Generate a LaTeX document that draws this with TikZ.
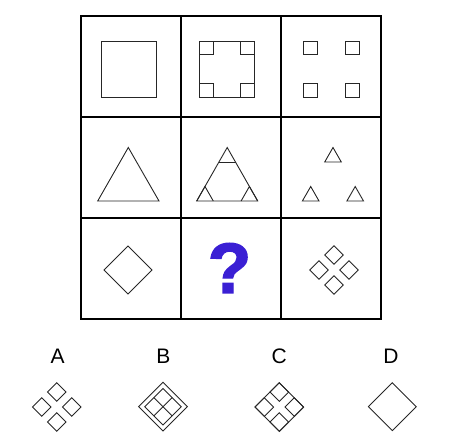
\documentclass[tikz,border=0pt]{standalone}
\usepackage{fontspec}
\setmainfont{Liberation Sans}
\newfontfamily\qfont[FakeBold=2]{Liberation Sans Bold}
\begin{document}
\begin{tikzpicture}[x=1pt,y=-1pt,
  gridline/.style={line width=1.3pt,draw=black},
  shp/.style={line width=0.9pt,draw=black!85},
  lab/.style={font=\fontsize{21}{21}\selectfont,inner sep=0pt,anchor=center},
  qm/.style={font=\fontsize{71}{71}\qfont,text=qblue,inner sep=0pt}]
\definecolor{qblue}{HTML}{3A1FD4}
\useasboundingbox (0,0) rectangle (452,441);
% grid
\draw[gridline] (81,16) rectangle (381,319);
\draw[gridline] (181,16) -- (181,319) (281,16) -- (281,319);
\draw[gridline] (81,117) -- (381,117) (81,218) -- (381,218);
% row 1
\draw[shp] (101,41) rectangle (156,97);
\draw[shp] (199.5,41) rectangle (254,97);
\foreach \x/\y in {199.5/41,240.5/41,199.5/83.5,240.5/83.5}
  \draw[shp] (\x,\y) rectangle ++(13.5,13.5);
\foreach \x/\y in {303.5/41,345.5/41,303.5/83.5,345.5/83.5}
  \draw[shp] (\x,\y) rectangle ++(13.5,13.5);
% row 2
\draw[shp] (97.7,201) -- (159,201) -- (128.3,147.5) -- cycle;
\draw[shp] (196.7,201) -- (257.7,201) -- (227.2,147.5) -- cycle;
\draw[shp] (218.9,162) -- (235.5,162);
\draw[shp] (213.3,201) -- (205,186.5) -- (196.7,201);
\draw[shp] (257.7,201) -- (249.4,186.5) -- (241.1,201);
\foreach \cx/\by in {333/162,310.7/201,355.2/201}
  \draw[shp] (\cx-8.3,\by) -- (\cx+8.3,\by) -- (\cx,\by-14.5) -- cycle;
% row 3
\draw[shp] (128,246) -- (152,270) -- (128,294) -- (104,270) -- cycle;
\node[qm] (q) at (229.5,268) {?};
\foreach \dx/\dy in {0/-15,-15/0,15/0,0/15}
  \draw[shp] (334+\dx,270+\dy) ++(0,-9.3) -- ++(9.3,9.3) -- ++(-9.3,9.3) -- ++(-9.3,-9.3) -- cycle;
% option labels
\node[lab] (la) at (57.7,356.7) {A};
\node[lab] (lb) at (163.3,356.7) {B};
\node[lab] (lc) at (279.3,356.7) {C};
\node[lab] (ld) at (391,356.7) {D};
% option A
\foreach \dx/\dy in {0/-15,-15/0,15/0,0/15}
  \draw[shp] (56.7+\dx,407+\dy) ++(0,-9.3) -- ++(9.3,9.3) -- ++(-9.3,9.3) -- ++(-9.3,-9.3) -- cycle;
% option B
\draw[shp] (163,382.3) -- (187.4,406.7) -- (163,431.1) -- (138.6,406.7) -- cycle;
\draw[shp] (163,388.4) -- (181.3,406.7) -- (163,425) -- (144.7,406.7) -- cycle;
\draw[shp] (153.85,397.55) -- (172.15,415.85);
\draw[shp] (172.15,397.55) -- (153.85,415.85);
% option C
\draw[shp] (279.3,382.8) -- (303.6,407.1) -- (279.3,431.4) -- (255,407.1) -- cycle;
\foreach \dx/\dy in {0/-15,-15/0,15/0,0/15}
  \draw[shp] (279.3+\dx,407.1+\dy) ++(0,-9.3) -- ++(9.3,9.3) -- ++(-9.3,9.3) -- ++(-9.3,-9.3) -- cycle;
% option D
\draw[shp] (392.3,382.8) -- (416.2,406.7) -- (392.3,430.6) -- (368.4,406.7) -- cycle;
\end{tikzpicture}
\end{document}
